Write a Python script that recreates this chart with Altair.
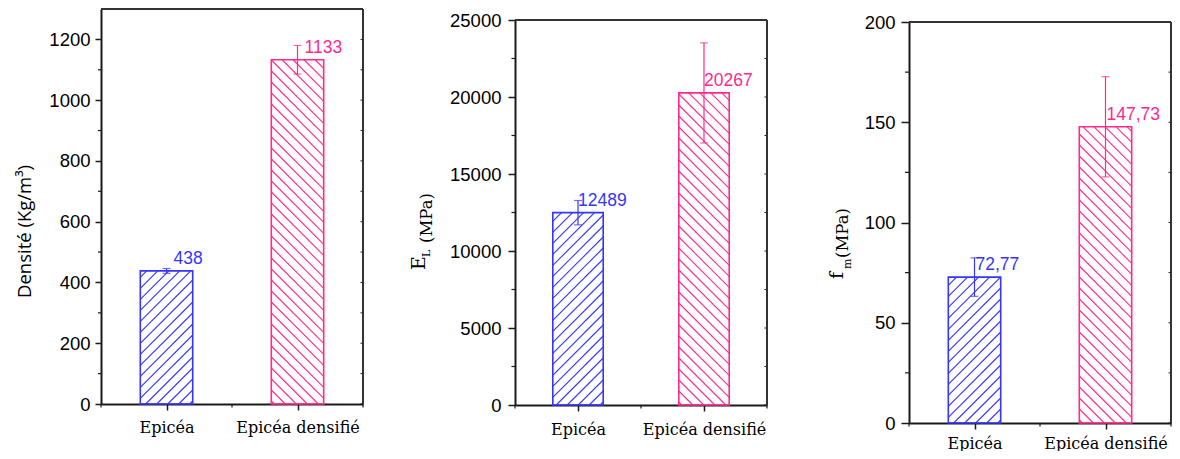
import json
import altair as alt
import pandas as pd

# ---------------- data ----------------
categories = ["Epicéa", "Epicéa densifié"]

densite = [438, 1133]
densite_err = [8, 47]

el_values = [12489, 20267]
el_err = [790, 3250]

fm_values = [72.77, 147.73]
fm_err = [9.6, 25.0]

dens_major = [0, 200, 400, 600, 800, 1000, 1200]
dens_minor = [100, 300, 500, 700, 900, 1100]
el_major = [0, 5000, 10000, 15000, 20000, 25000]
el_minor = [2500, 7500, 12500, 17500, 22500]
fm_major = [0, 50, 100, 150, 200]
fm_minor = [25, 75, 125, 175]

x_major = [1, 2]
x_minor = [0.5, 1.5, 2.5]

# ---------------- style ----------------
BAR_COLORS = ["#3535ff", "#ff2a8c"]
AXIS = "#1a1a1a"
FRAME = "#333333"
TICK_FONT = "Liberation Sans"
CAT_FONT = "DejaVu Serif"
BAR_HALF = 0.2
HATCH_STEP = 11.0
HATCH_DIRS = ["/", "\\"]
PANEL_W = 262
GAP = 132


def hatch_rows(values, xr, gh, ytop, ymax):
    pxx = (xr[1] - xr[0]) / 2.0
    pxy = (gh - ytop) / ymax
    bw = 2 * BAR_HALF * pxx
    rows = []
    for i, (cat, v) in enumerate(zip(categories, values)):
        left = (i + 1) - BAR_HALF
        h = v * pxy
        c = -bw + 3.0
        while c < h:
            t0 = max(0.0, -c)
            t1 = min(bw, h - c)
            if t1 > t0 + 0.5:
                if HATCH_DIRS[i] == "/":
                    ua, ub = t0, t1
                else:
                    ua, ub = bw - t0, bw - t1
                rows.append(dict(cat=cat, hx=left + ua / pxx, hx2=left + ub / pxx,
                                 hy=(t0 + c) / pxy, hy2=(t1 + c) / pxy))
            c += HATCH_STEP
    return pd.DataFrame(rows)


def panel(values, errs, ymax, major, minor, label_expr, cfg):
    gh, xr, ytop = cfg["gh"], cfg["xr"], cfg["ytop"]
    xl = xr[0]
    xs = alt.Scale(domain=[0.5, 2.5], range=xr, nice=False, zero=False)
    ys = alt.Scale(domain=[0, ymax], range=[gh, ytop], nice=False, zero=False)
    color = alt.Color("cat:N", scale=alt.Scale(domain=categories, range=BAR_COLORS), legend=None)

    cat_expr = json.dumps(categories, ensure_ascii=False) + "[datum.value - 1]"
    xaxis = alt.Axis(
        values=x_major, labelExpr=cat_expr, title=None, grid=False,
        tickSize=6, tickWidth=1.5, tickColor=AXIS, domainColor=AXIS, domainWidth=2,
        labelFont=CAT_FONT, labelFontSize=16, labelColor="black",
        labelPadding=cfg["xpad"], labelFlush=False, labelOverlap=False)
    yaxis = alt.Axis(
        values=major, format="d", title=None, grid=False, offset=-xl,
        tickSize=cfg["tick"], tickWidth=1.5, tickColor=AXIS, domainColor=AXIS, domainWidth=2,
        labelFont=TICK_FONT, labelFontSize=18.5, labelColor="black",
        labelPadding=cfg["ypad"], labelFlush=False, labelOverlap=False)

    def X(f):
        return alt.X(f, scale=xs, axis=xaxis, title=None)

    def Y(f):
        return alt.Y(f, scale=ys, axis=yaxis, title=None)

    df = pd.DataFrame({"cat": categories, "idx": [1, 2], "v": values, "err": errs})
    base = alt.Chart(df).transform_calculate(
        x0=f"datum.idx - {BAR_HALF}",
        x1=f"datum.idx + {BAR_HALF}",
        lo="datum.v - datum.err",
        hi="datum.v + datum.err",
        zero="0",
        label=label_expr,
    )

    hatch = alt.Chart(hatch_rows(values, xr, gh, ytop, ymax)).mark_rule(strokeWidth=1.1).encode(
        x=X("hx:Q"), x2="hx2:Q", y=Y("hy:Q"), y2="hy2:Q", color=color)

    bars = base.mark_bar(filled=False, strokeWidth=1.6).encode(
        x=X("x0:Q"), x2="x1:Q", y=Y("v:Q"), y2="zero:Q", color=color)

    err_rule = base.mark_rule(strokeWidth=1.2).encode(
        x=X("idx:Q"), y=Y("lo:Q"), y2="hi:Q", color=color)
    cap_lo = base.mark_tick(orient="horizontal", size=8, thickness=1.2).encode(
        x=X("idx:Q"), y=Y("lo:Q"), color=color)
    cap_hi = base.mark_tick(orient="horizontal", size=8, thickness=1.2).encode(
        x=X("idx:Q"), y=Y("hi:Q"), color=color)

    labels = base.mark_text(align="left", baseline="alphabetic", dx=cfg["ldx"], dy=-7,
                            font=TICK_FONT, fontSize=17.5).encode(
        x=X("idx:Q"), y=Y("v:Q"), text="label:N", color=color)

    ymin_ticks = alt.Chart(pd.DataFrame({"t": minor})).mark_rule(color=AXIS, strokeWidth=1.2).encode(
        y=Y("t:Q"), x=alt.value(xl), x2=alt.value(xl - cfg["tick"] / 2))
    right_ticks = alt.Chart(pd.DataFrame({"t": major + minor})).mark_rule(color=AXIS, strokeWidth=1).encode(
        y=Y("t:Q"), x=alt.value(xr[1]), x2=alt.value(xr[1] - 2.5))
    xmin_ticks = alt.Chart(pd.DataFrame({"t": x_minor})).mark_rule(color=AXIS, strokeWidth=1.2).encode(
        x=X("t:Q"), y=alt.value(gh), y2=alt.value(gh + 3.5))

    fdf = pd.DataFrame({"a": [0.5], "b": [2.5], "top": [ymax], "z": [0]})
    top_line = alt.Chart(fdf).mark_rule(color=FRAME, strokeWidth=2).encode(
        x=X("a:Q"), x2="b:Q", y=Y("top:Q"))
    right_line = alt.Chart(fdf).mark_rule(color=FRAME, strokeWidth=2).encode(
        x=X("b:Q"), y=Y("z:Q"), y2="top:Q")

    layers = [hatch, bars, err_rule, cap_lo, cap_hi, labels,
              ymin_ticks, right_ticks, xmin_ticks, top_line, right_line]

    for text, font, size, bx, sy in cfg["title"]:
        layers.append(
            alt.Chart(pd.DataFrame({"t": [text]})).mark_text(
                angle=270, align="left", baseline="alphabetic", font=font,
                fontSize=size, color="black").encode(
                x=alt.value(xl + bx), y=alt.value(sy), text="t:N"))

    if cfg.get("anchor") is not None:
        layers.append(alt.Chart(pd.DataFrame({"t": [0]})).mark_rule(opacity=0).encode(
            x=alt.value(cfg["anchor"]), y=alt.value(1), y2=alt.value(3)))

    return alt.layer(*layers).properties(width=PANEL_W, height=gh)


p1 = panel(densite, densite_err, 1300, dens_major, dens_minor,
           "format(datum.v, 'd')",
           dict(gh=395, xr=[-20, 242], ytop=0, tick=6, ypad=5, xpad=9, ldx=7, anchor=-112.5,
                title=[("Densité (Kg/m³)", "Open Sans", 18.5, -70, 289)]))

p2 = panel(el_values, el_err, 25000, el_major, el_minor,
           "format(datum.v, 'd')",
           dict(gh=396, xr=[0, 252], ytop=11, tick=7, ypad=7, xpad=10, ldx=0,
                title=[("E", CAT_FONT, 19, -90, 261),
                       ("L", CAT_FONT, 11, -85, 248),
                       ("(MPa)", CAT_FONT, 16.5, -83, 234)]))

p3 = panel(fm_values, fm_err, 200, fm_major, fm_minor,
           "replace(format(datum.v, '.2f'), '.', ',')",
           dict(gh=414, xr=[0, 262], ytop=13, tick=8, ypad=6, xpad=6, ldx=1,
                title=[("f", CAT_FONT, 19, -66, 270),
                       ("m", CAT_FONT, 11, -58, 260),
                       ("(MPa)", CAT_FONT, 16.5, -61, 249)]))

chart = alt.hconcat(p1, p2, p3, spacing=GAP, bounds="flush").properties(
    padding=0, background="white"
).configure_view(stroke=None)

chart.save("out.html", embed_options={"renderer": "svg", "actions": False})
